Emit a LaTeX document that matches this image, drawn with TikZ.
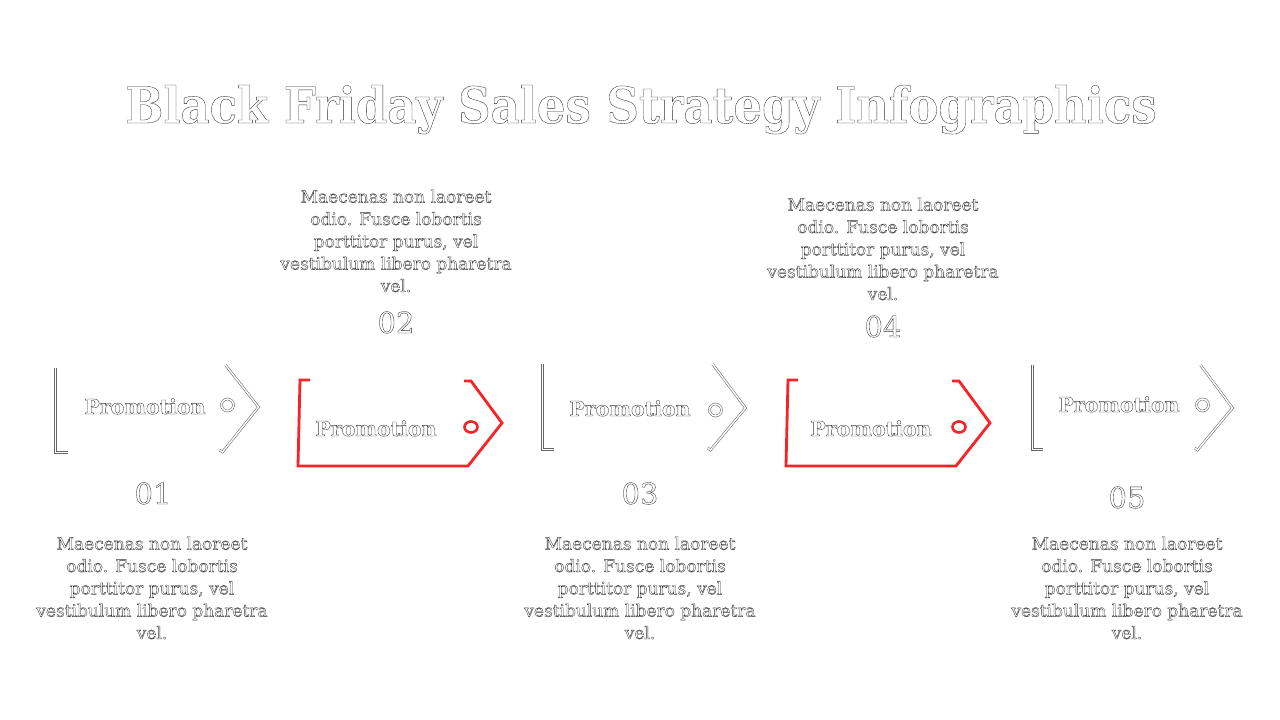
\documentclass[tikz,border=0pt]{standalone}
\usepackage{fontspec}
\setmainfont{DejaVu Serif}
\newfontfamily\condfont{DejaVu Serif Condensed}
\definecolor{tagred}{RGB}{244,36,40}
\newcommand{\olt}[1]{{\color{white}\special{pdf:literal direct 0.2 G 0.35 w 2 Tr}#1\special{pdf:literal direct 0 Tr}}}
\tikzset{
  ttl/.style={font=\condfont\bfseries\fontsize{50}{54}\selectfont, anchor=base, inner sep=0pt},
  desc/.style={font=\fontsize{17}{22.3}\selectfont, align=center, inner sep=0pt},
  num/.style={font=\fontsize{29}{32}\selectfont, anchor=base, inner sep=0pt},
  promo/.style={font=\bfseries\fontsize{20.5}{22}\selectfont, anchor=base, inner sep=0pt},
  wline/.style={draw=black!60, double=white, double distance=1.4pt, line width=0.55pt, line join=miter},
  rline/.style={draw=tagred, line width=2.8pt, line join=miter},
}
\begin{document}
\begin{tikzpicture}[x=1pt,y=-1pt]
\fill[white] (0,0) rectangle (1280,720);
\useasboundingbox (0,0) rectangle (1280,720);

\node[ttl] (title) at (641,123) {\olt{Black Friday Sales Strategy Infographics}};

% shape 1 (white)
\begin{scope}[shift={(55.5,0)}]
  \draw[wline] (0,368) -- (0,452.5) -- (12,452.5);
  \draw[wline] (170,365) -- (203,407) -- (167,452) -- (164,450);
  \draw[wline] (172,405) circle[radius=6];
\end{scope}
% shape 2 (red)
\begin{scope}[shift={(299,0)}]
  \draw[rline] (11,380) -- (1,380) -- (-1,466) -- (169,466) -- (203,423) -- (172,381) -- (165,381);
  \draw[rline, line width=2.6pt] (172,427) ellipse[x radius=6.5, y radius=5.5];
\end{scope}
% shape 3 (white)
\begin{scope}[shift={(542.5,-2)}]
  \draw[wline] (0,366) -- (0,451.5) -- (11,451.5);
  \draw[wline] (170,366) -- (203,410) -- (168,452) -- (165,450);
  \draw[wline] (173,412) circle[radius=6];
\end{scope}
% shape 4 (red)
\begin{scope}[shift={(787,0)}]
  \draw[rline] (11,380) -- (1,380) -- (-1,466) -- (169,466) -- (203,423) -- (172,381) -- (165,381);
  \draw[rline, line width=2.6pt] (172,427) ellipse[x radius=6.5, y radius=5.5];
\end{scope}
% shape 5 (white)
\begin{scope}[shift={(1032.5,-2)}]
  \draw[wline] (0,367) -- (0,451.5) -- (10,451.5);
  \draw[wline] (168,367) -- (200,410) -- (165,452) -- (162,450);
  \draw[wline] (170,407) circle[radius=6];
\end{scope}

\node[promo] (p1) at (145,414) {\olt{Promotion}};
\node[promo] (p2) at (376,436) {\olt{Promotion}};
\node[promo] (p3) at (630,416) {\olt{Promotion}};
\node[promo] (p4) at (871,436) {\olt{Promotion}};
\node[promo] (p5) at (1119,412) {\olt{Promotion}};

\node[num] (n1) at (153,504) {\olt{01}};
\node[num] (n2) at (396,333) {\olt{02}};
\node[num] (n3) at (640,504) {\olt{03}};
\node[num] (n4) at (883,337) {\olt{04}};
\node[num] (n5) at (1127,508) {\olt{05}};

\newcommand{\lorem}{\olt{Maecenas non laoreet}\\\olt{odio. Fusce lobortis}\\\olt{porttitor purus, vel}\\\olt{vestibulum libero pharetra}\\\olt{vel.}}
\node[desc] (d1) at (152,588) {\lorem};
\node[desc] (d2) at (396,241) {\lorem};
\node[desc] (d3) at (640,588) {\lorem};
\node[desc] (d4) at (883,249) {\lorem};
\node[desc] (d5) at (1127,588) {\lorem};
\end{tikzpicture}
\end{document}
